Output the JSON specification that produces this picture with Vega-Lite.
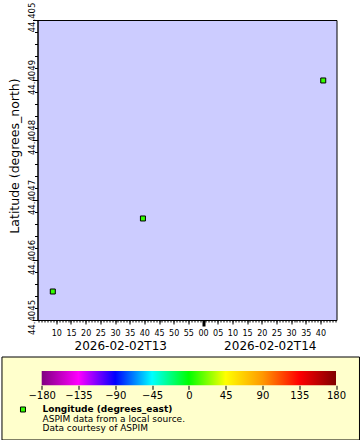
{
  "$schema": "https://vega.github.io/schema/vega-lite/v6.json",
  "background": "white",
  "padding": {"left": 0.5, "top": 1, "right": 0, "bottom": 0},
  "spacing": 4,
  "config": {
    "font": "DejaVu Sans",
    "view": {"stroke": null},
    "axis": {"grid": false, "domainColor": "black", "tickColor": "black", "labelColor": "black", "titleColor": "black", "labelFlush": false, "labelOverlap": false, "titleFontWeight": "normal"}
  },
  "vconcat": [
    {
      "width": 299,
      "height": 300,
      "view": {"fill": "#CCCCFF", "stroke": "black", "strokeWidth": 1},
      "data": {"values": [
        {"time": "2026-02-02T13:08:48Z", "latitude": 44.4045475, "longitude": 8.93},
        {"time": "2026-02-02T13:39:31Z", "latitude": 44.4046692, "longitude": 8.93},
        {"time": "2026-02-02T14:40:58Z", "latitude": 44.4048992, "longitude": 8.93}
      ]},
      "resolve": {"axis": {"x": "independent", "y": "independent"}},
      "layer": [
        {
          "mark": {"type": "point", "opacity": 0},
          "encoding": {
            "x": {"field": "time", "type": "temporal",
              "scale": {"type": "utc", "nice": false, "domain": [1770037415000, 1770043529000]},
              "axis": {"orient": "bottom", "values": [1770037440000, 1770037500000, 1770037560000, 1770037620000, 1770037680000, 1770037740000, 1770037800000, 1770037860000, 1770037920000, 1770037980000, 1770038040000, 1770038100000, 1770038160000, 1770038220000, 1770038280000, 1770038340000, 1770038400000, 1770038460000, 1770038520000, 1770038580000, 1770038640000, 1770038700000, 1770038760000, 1770038820000, 1770038880000, 1770038940000, 1770039000000, 1770039060000, 1770039120000, 1770039180000, 1770039240000, 1770039300000, 1770039360000, 1770039420000, 1770039480000, 1770039540000, 1770039600000, 1770039660000, 1770039720000, 1770039780000, 1770039840000, 1770039900000, 1770039960000, 1770040020000, 1770040080000, 1770040140000, 1770040200000, 1770040260000, 1770040320000, 1770040380000, 1770040440000, 1770040500000, 1770040560000, 1770040620000, 1770040680000, 1770040740000, 1770040800000, 1770040860000, 1770040920000, 1770040980000, 1770041040000, 1770041100000, 1770041160000, 1770041220000, 1770041280000, 1770041340000, 1770041400000, 1770041460000, 1770041520000, 1770041580000, 1770041640000, 1770041700000, 1770041760000, 1770041820000, 1770041880000, 1770041940000, 1770042000000, 1770042060000, 1770042120000, 1770042180000, 1770042240000, 1770042300000, 1770042360000, 1770042420000, 1770042480000, 1770042540000, 1770042600000, 1770042660000, 1770042720000, 1770042780000, 1770042840000, 1770042900000, 1770042960000, 1770043020000, 1770043080000, 1770043140000, 1770043200000, 1770043260000, 1770043320000, 1770043380000, 1770043440000, 1770043500000], "labels": false, "domain": false, "tickSize": 2, "title": null}},
            "y": {"field": "latitude", "type": "quantitative",
              "scale": {"domain": [44.4045, 44.405], "nice": false, "zero": false},
              "axis": {"orient": "left", "values": [44.4045, 44.40452, 44.40454, 44.40456, 44.40458, 44.4046, 44.40462, 44.40464, 44.40466, 44.40468, 44.4047, 44.40472, 44.40474, 44.40476, 44.40478, 44.4048, 44.40482, 44.40484, 44.40486, 44.40488, 44.4049, 44.40492, 44.40494, 44.40496, 44.40498, 44.405], "labels": false, "domain": false, "tickSize": 3, "title": null}}
          }
        },
        {
          "mark": {"type": "point", "opacity": 0},
          "encoding": {
            "x": {"field": "time", "type": "temporal",
              "scale": {"type": "utc", "nice": false, "domain": [1770037415000, 1770043529000]},
              "axis": {"orient": "bottom", "values": [1770040800000], "labels": false, "domain": false, "tickSize": 6, "tickWidth": 3, "title": null}},
            "y": {"field": "latitude", "type": "quantitative", "scale": {"domain": [44.4045, 44.405], "nice": false, "zero": false}, "axis": null}
          }
        },
        {
          "mark": {"type": "point", "opacity": 0},
          "encoding": {
            "x": {"field": "time", "type": "temporal",
              "scale": {"type": "utc", "nice": false, "domain": [1770037415000, 1770043529000]},
              "axis": {"orient": "bottom", "values": [1770039107000, 1770042165000], "format": "%Y-%m-%dT%H", "ticks": false, "tickSize": 0, "labelPadding": 20, "labelFontSize": 12, "labelBaseline": "top", "domain": false, "title": null}},
            "y": {"field": "latitude", "type": "quantitative", "scale": {"domain": [44.4045, 44.405], "nice": false, "zero": false}, "axis": null}
          }
        },
        {
          "mark": {"type": "square", "size": 25, "filled": true, "stroke": "black", "strokeWidth": 1, "opacity": 1},
          "encoding": {
            "x": {"field": "time", "type": "temporal",
              "scale": {"type": "utc", "nice": false, "domain": [1770037415000, 1770043529000]},
              "axis": {"orient": "bottom", "values": [1770037800000, 1770038100000, 1770038400000, 1770038700000, 1770039000000, 1770039300000, 1770039600000, 1770039900000, 1770040200000, 1770040500000, 1770040800000, 1770041100000, 1770041400000, 1770041700000, 1770042000000, 1770042300000, 1770042600000, 1770042900000, 1770043200000], "format": "%M", "tickSize": 4, "labelPadding": 5, "labelFontSize": 8, "labelBaseline": "top", "title": null, "domain": true}},
            "y": {"field": "latitude", "type": "quantitative",
              "scale": {"domain": [44.4045, 44.405], "nice": false, "zero": false},
              "axis": {"orient": "left", "values": [44.4045, 44.4046, 44.4047, 44.4048, 44.4049, 44.405], "format": ".4~f", "labelAngle": -90, "labelAlign": "center", "labelBaseline": "alphabetic", "tickSize": 5, "labelPadding": -2, "labelOffset": -3, "labelFontSize": 8.5, "title": "Latitude (degrees_north)", "titleFontSize": 12.5, "titleAngle": 270, "titleX": -23, "titleY": 135.5, "titleAlign": "center", "titleBaseline": "middle", "domain": true}},
            "color": {"field": "longitude", "type": "quantitative",
              "scale": {"domain": [-180, -135, -90, -45, 0, 45, 90, 135, 180], "range": ["#800080", "#FF00FF", "#0000FF", "#00FFFF", "#00FF00", "#FFFF00", "#FF9900", "#FF0000", "#800000"], "interpolate": "rgb"},
              "legend": null}
          }
        }
      ]
    },
    {
      "width": 299,
      "height": 83,
      "view": {"stroke": null},
      "resolve": {"axis": {"x": "independent", "y": "independent"}},
      "layer": [
        {
          "data": {"values": [{"panel": "legend"}]},
          "mark": {"type": "rect", "fill": "#FFFFCC", "stroke": "black", "strokeWidth": 1},
          "encoding": {
            "x": {"datum": -228.6, "type": "quantitative", "scale": {"domain": [-185.14, 180.6], "nice": false, "zero": false}, "axis": null},
            "x2": {"datum": 208.7},
            "y": {"datum": -4.526, "type": "quantitative", "scale": {"domain": [-4.526, 4.2105], "nice": false, "zero": false, "reverse": true}, "axis": null},
            "y2": {"datum": 4.2105}
          }
        },
        {
          "data": {"values": [{"lon_min": -180, "lon_max": 180}]},
          "mark": {"type": "rect", "stroke": null, "fill": {"gradient": "linear", "x1": 0, "y1": 0, "x2": 1, "y2": 0, "stops": [
            {"offset": 0, "color": "#800080"}, {"offset": 0.125, "color": "#FF00FF"}, {"offset": 0.25, "color": "#0000FF"}, {"offset": 0.375, "color": "#00FFFF"}, {"offset": 0.5, "color": "#00FF00"}, {"offset": 0.625, "color": "#FFFF00"}, {"offset": 0.75, "color": "#FF9900"}, {"offset": 0.875, "color": "#FF0000"}, {"offset": 1, "color": "#800000"}]}},
          "encoding": {
            "x": {"field": "lon_min", "type": "quantitative", "scale": {"domain": [-185.14, 180.6], "nice": false, "zero": false},
              "axis": {"orient": "bottom", "offset": -54.7, "zindex": 2, "values": [-180, -135, -90, -45, 0, 45, 90, 135, 180], "format": "d", "tickSize": 4, "labelPadding": 1, "labelFontSize": 10, "labelBaseline": "top", "domain": false, "title": null}},
            "x2": {"field": "lon_max"},
            "y": {"datum": -3.0526, "type": "quantitative", "scale": {"domain": [-4.526, 4.2105], "nice": false, "zero": false, "reverse": true}, "axis": null},
            "y2": {"datum": -1.547}
          }
        },
        {
          "data": {"values": [{"lon": 8.93}]},
          "mark": {"type": "square", "size": 25, "filled": true, "stroke": "black", "strokeWidth": 1, "opacity": 1},
          "encoding": {
            "x": {"datum": -202.9, "type": "quantitative", "scale": {"domain": [-185.14, 180.6], "nice": false, "zero": false}, "axis": null},
            "y": {"datum": 1, "type": "quantitative", "scale": {"domain": [-4.526, 4.2105], "nice": false, "zero": false, "reverse": true}, "axis": null},
            "color": {"field": "lon", "type": "quantitative",
              "scale": {"domain": [-180, -135, -90, -45, 0, 45, 90, 135, 180], "range": ["#800080", "#FF00FF", "#0000FF", "#00FFFF", "#00FF00", "#FFFF00", "#FF9900", "#FF0000", "#800000"], "interpolate": "rgb"},
              "legend": null}
          }
        },
        {
          "data": {"values": [{"label": "Longitude (degrees_east)", "line": 1}]},
          "mark": {"type": "text", "align": "left", "baseline": "middle", "fontSize": 9, "fontWeight": "bold", "color": "black"},
          "encoding": {
            "x": {"datum": -179, "type": "quantitative", "scale": {"domain": [-185.14, 180.6], "nice": false, "zero": false}, "axis": null},
            "y": {"field": "line", "type": "quantitative", "scale": {"domain": [-4.526, 4.2105], "nice": false, "zero": false, "reverse": true}, "axis": null},
            "text": {"field": "label"}
          }
        },
        {
          "data": {"values": [{"label": "ASPIM data from a local source.", "line": 2}, {"label": "Data courtesy of ASPIM", "line": 3}]},
          "mark": {"type": "text", "align": "left", "baseline": "middle", "fontSize": 9, "color": "black"},
          "encoding": {
            "x": {"datum": -179, "type": "quantitative", "scale": {"domain": [-185.14, 180.6], "nice": false, "zero": false}, "axis": null},
            "y": {"field": "line", "type": "quantitative", "scale": {"domain": [-4.526, 4.2105], "nice": false, "zero": false, "reverse": true}, "axis": null},
            "text": {"field": "label"}
          }
        }
      ]
    }
  ]
}
